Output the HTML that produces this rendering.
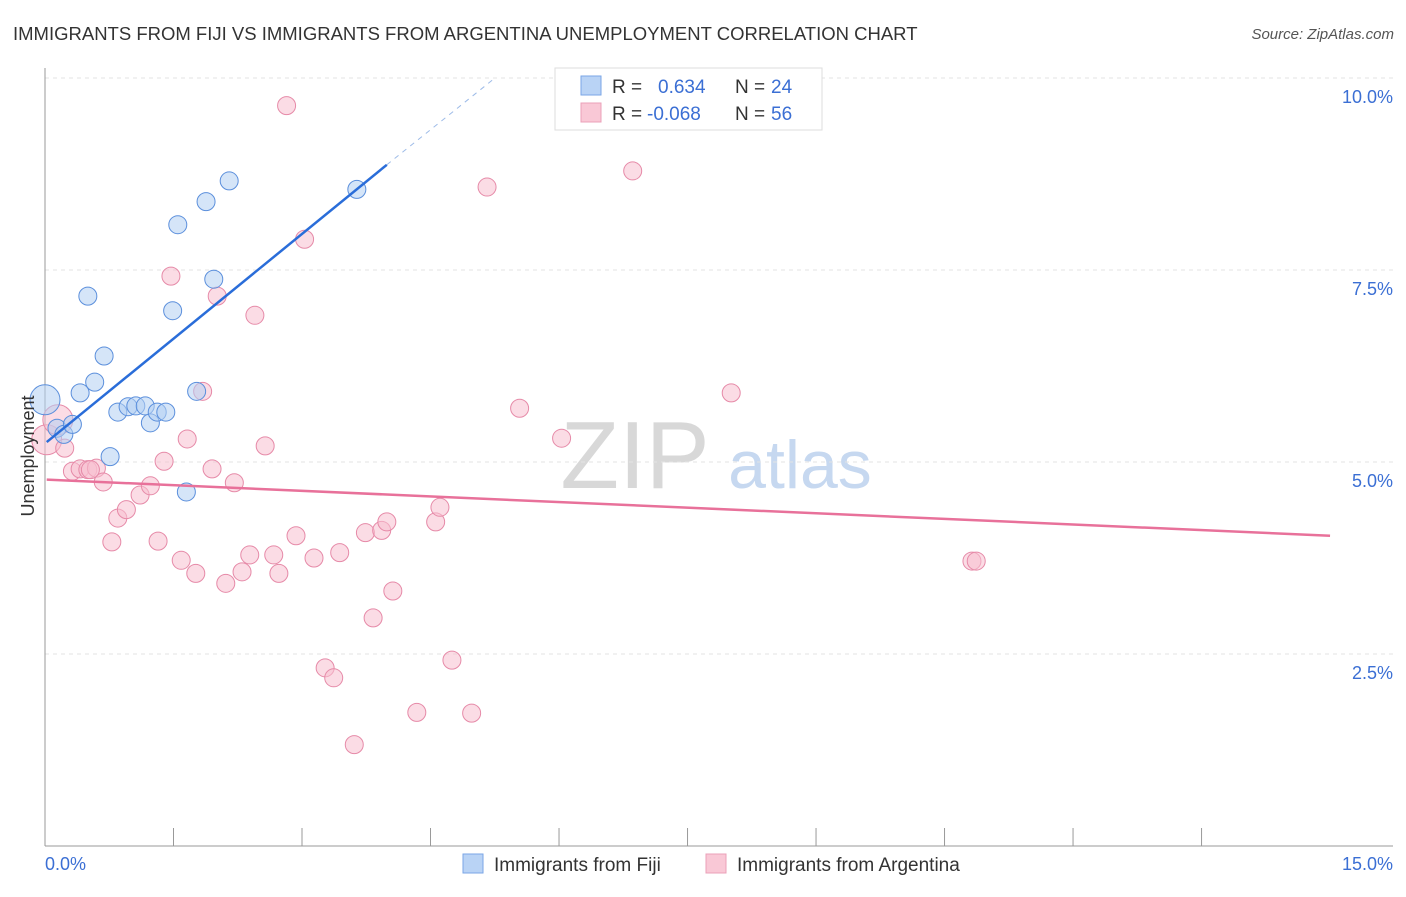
<!DOCTYPE html>
<html><head><meta charset="utf-8"><style>
body{margin:0;background:#fff;font-family:"Liberation Sans",sans-serif}
svg text{font-family:"Liberation Sans",sans-serif}
</style></head><body>
<svg id="c" width="1406" height="892">
<text x="13" y="40" font-size="18.5" fill="#333">IMMIGRANTS FROM FIJI VS IMMIGRANTS FROM ARGENTINA UNEMPLOYMENT CORRELATION CHART</text>
<text x="1394" y="39" font-size="15" fill="#555" font-style="italic" text-anchor="end">Source: ZipAtlas.com</text>
<text x="635" y="488" font-size="96" fill="#d8d8d8" font-family="Liberation Serif" text-anchor="middle">ZIP</text>
<text x="800" y="488" font-size="68" fill="#c6d8f0" text-anchor="middle">atlas</text>
<g id="grid"></g><g id="axes"></g><g id="pts"></g><g id="lines"></g>
<text transform="translate(34,456) rotate(-90)" font-size="18" fill="#333" text-anchor="middle">Unemployment</text>
<text x="45" y="870" font-size="18" fill="#3b6fd4">0.0%</text>
<text x="1393" y="870" font-size="18" fill="#3b6fd4" text-anchor="end">15.0%</text>
<g>
<rect x="555" y="68" width="267" height="62" fill="#fff" stroke="#ddd"/>
<rect x="581" y="76" width="20" height="19" fill="#b9d3f5" stroke="#7aa6e6"/>
<rect x="581" y="103" width="20" height="19" fill="#f9c8d6" stroke="#eba0b8"/>
<text x="612" y="93" font-size="19" fill="#333">R = </text><text x="658" y="93" font-size="19" fill="#3b6fd4">0.634</text>
<text x="735" y="93" font-size="19" fill="#333">N = </text><text x="771" y="93" font-size="19" fill="#3b6fd4">24</text>
<text x="612" y="120" font-size="19" fill="#333">R = </text><text x="647" y="120" font-size="19" fill="#3b6fd4">-0.068</text>
<text x="735" y="120" font-size="19" fill="#333">N = </text><text x="771" y="120" font-size="19" fill="#3b6fd4">56</text>
</g>
<g>
<rect x="463" y="854" width="20" height="19" fill="#b9d3f5" stroke="#7aa6e6"/>
<text x="494" y="871" font-size="19" fill="#333">Immigrants from Fiji</text>
<rect x="706" y="854" width="20" height="19" fill="#f9c8d6" stroke="#eba0b8"/>
<text x="737" y="871" font-size="19" fill="#333">Immigrants from Argentina</text>
</g>
</svg>
<script>
const yTicks=[2.5,5.0,7.5,10.0];
const xTickCount=10;
const fijiX=[0.00,0.14,0.22,0.32,0.41,0.50,0.58,0.69,0.76,0.85,0.97,1.06,1.17,1.23,1.31,1.41,1.49,1.55,1.65,1.77,1.88,1.97,2.15,3.64];
const fijiY=[5.81,5.44,5.36,5.49,5.90,7.16,6.04,6.38,5.07,5.65,5.72,5.73,5.73,5.51,5.65,5.65,6.97,8.09,4.61,5.92,8.39,7.38,8.66,8.55];
const argX=[0.02,0.15,0.23,0.32,0.41,0.50,0.60,0.68,0.78,0.85,0.95,1.11,1.23,1.32,1.39,1.47,1.59,1.66,1.76,1.84,1.95,2.01,2.11,2.21,2.30,2.39,2.45,2.57,2.67,2.73,2.82,2.93,3.03,3.14,3.27,3.37,3.44,3.61,3.74,3.83,3.93,3.99,4.06,4.34,4.56,4.61,4.75,4.98,5.16,5.54,6.03,6.86,8.01,10.82,10.87,0.53];
const argY=[5.29,5.55,5.18,4.88,4.91,4.90,4.92,4.74,3.96,4.27,4.38,4.57,4.69,3.97,5.01,7.42,3.72,5.30,3.55,5.92,4.91,7.16,3.42,4.73,3.57,3.79,6.91,5.21,3.79,3.55,9.64,4.04,7.90,3.75,2.32,2.19,3.82,1.32,4.08,2.97,4.11,4.22,3.32,1.74,4.22,4.41,2.42,1.73,8.58,5.70,5.31,8.79,5.90,3.71,3.71,4.90];
const fijiTrend=[[0.02,5.26],[3.99,8.87],[5.23,9.98]];
const argTrend=[[0.02,4.77],[15,4.04]];
const X=v=>45+v*85.67, Y=v=>846-v*76.8;
const NS='http://www.w3.org/2000/svg';
function mk(p,t,a){const e=document.createElementNS(NS,t);for(const k in a)e.setAttribute(k,a[k]);p.appendChild(e);return e;}
const grid=document.getElementById('grid'),axes=document.getElementById('axes'),pts=document.getElementById('pts'),lines=document.getElementById('lines');
yTicks.forEach(t=>{
 const l=mk(grid,'line',{x1:45,x2:1393,y1:Y(t),y2:Y(t),stroke:'#e3e3e3','stroke-dasharray':'4,4'});
 
 
 const tx=mk(grid,'text',{x:1393,y:Y(t)+25,'font-size':18,fill:'#3b6fd4','text-anchor':'end'});
 tx.textContent=t.toFixed(1)+'%';
 
 
});
let a=mk(axes,'line',{x1:45,x2:1393,y1:846,y2:846,stroke:'#999'});


a=mk(axes,'line',{x1:45,x2:45,y1:68,y2:846,stroke:'#999'});


for(let i=0;i<=xTickCount;i++){const v=15*i/xTickCount;
 const t=mk(axes,'line',{x1:X(v),x2:X(v),y1:846,y2:i%5===0?846:828,stroke:'#999'});
 if(i>0&&i<xTickCount)t.setAttribute('y2',828);
 
 
}
function dots(xs,ys,fill,stroke,name){xs.forEach((x,i)=>{
 const c=mk(pts,'circle',{cx:X(x),cy:Y(ys[i]),r:(i<2&&name==='arg-point')||(i===0&&name==='fiji-point')?15:9,fill:fill,stroke:stroke,'stroke-width':1,'fill-opacity':0.55});
 
 
});}
dots(argX,argY,'#f7bfd0','#e68aa8','arg-point');
dots(fijiX,fijiY,'#b3cff3','#5b8fdc','fiji-point');
let l=mk(lines,'line',{x1:X(fijiTrend[0][0]),y1:Y(fijiTrend[0][1]),x2:X(fijiTrend[1][0]),y2:Y(fijiTrend[1][1]),stroke:'#2a6dd9','stroke-width':2.5});


l=mk(lines,'line',{x1:X(fijiTrend[1][0]),y1:Y(fijiTrend[1][1]),x2:X(fijiTrend[2][0]),y2:Y(fijiTrend[2][1]),stroke:'#9dbbe8','stroke-width':1,'stroke-dasharray':'5,5'});


l=mk(lines,'line',{x1:X(argTrend[0][0]),y1:Y(argTrend[0][1]),x2:X(argTrend[1][0]),y2:Y(argTrend[1][1]),stroke:'#e8719a','stroke-width':2.5});


</script>
</body></html>
